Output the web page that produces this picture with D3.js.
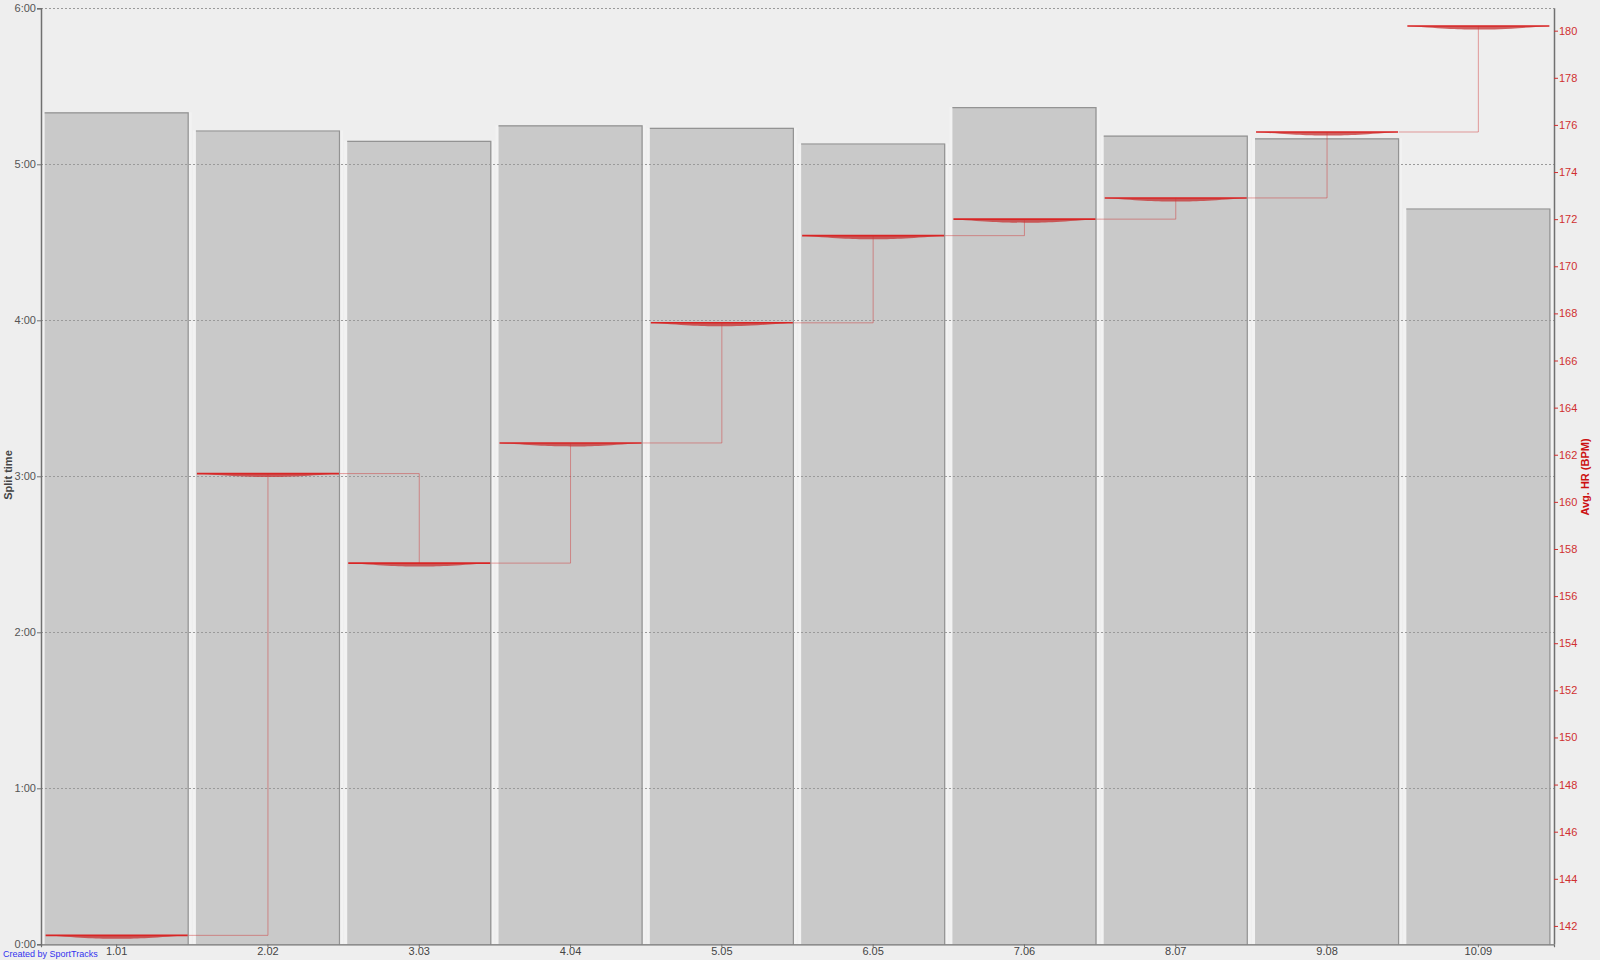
<!DOCTYPE html>
<html>
<head>
<meta charset="utf-8">
<script src="https://cdn.jsdelivr.net/npm/d3@7"></script>
<style>
  body { margin: 0; background: #eeeeee; }
  svg { display: block; font-family: "Liberation Sans", Arial, sans-serif; }
</style>
</head>
<body>
<div id="chart"></div>
<script>
// split labels (distance in km at end of split)
var splitLabels = ["1.01", "2.02", "3.03", "4.04", "5.05", "6.05", "7.06", "8.07", "9.08", "10.09"];
// split time in seconds
var splitSeconds = [320, 313, 309, 315, 314, 308, 322, 311, 310, 283];
// average heart rate per split
var avgHR = [141.6, 161.2, 157.4, 162.5, 167.6, 171.3, 172.0, 172.9, 175.7, 180.2];
// axis ticks
var timeTicks = [0, 60, 120, 180, 240, 300, 360];
var hrTicks = d3.range(142, 181, 2);

var width = 1600, height = 960;
var margin = {top: 8.3, right: 46, bottom: 15.7, left: 41};

var svg = d3.select("#chart").append("svg")
    .attr("width", width)
    .attr("height", height);

svg.append("rect").attr("width", width).attr("height", height).attr("fill", "#eeeeee");

var x = d3.scaleBand()
    .domain(splitLabels)
    .range([margin.left, width - margin.right])
    .paddingInner(0.048)
    .paddingOuter(0.024);

var y = d3.scaleLinear()
    .domain([0, 360])
    .range([height - margin.bottom, margin.top]);

var yHR = d3.scaleLinear()
    .domain([141.22, 180.95])
    .range([height - margin.bottom, margin.top]);

var data = splitLabels.map(function(d, i){
    return {label: d, time: splitSeconds[i], hr: avgHR[i]};
});

function fmtTime(s){
    var m = Math.floor(s / 60), sec = Math.round(s % 60);
    return m + ":" + (sec < 10 ? "0" : "") + sec;
}

//bars
var bars = svg.append("g").selectAll("g").data(data).enter().append("g");

bars.append("rect")
    .attr("x", function(d){ return x(d.label) - 3; })
    .attr("y", function(d){ return y(d.time); })
    .attr("width", x.bandwidth() + 6)
    .attr("height", function(d){ return y(0) - y(d.time); })
    .attr("fill", "#f2f2f2");

bars.append("rect")
    .attr("x", function(d){ return x(d.label); })
    .attr("y", function(d){ return y(d.time); })
    .attr("width", x.bandwidth())
    .attr("height", function(d){ return y(0) - y(d.time); })
    .attr("fill", "#c9c9c9");

bars.append("path")
    .attr("d", function(d){
        var x0 = x(d.label), x1 = x0 + x.bandwidth();
        return "M" + x0 + "," + (y(d.time) + 0.5) + "H" + (x1 - 0.5) + "V" + y(0);
    })
    .attr("fill", "none")
    .attr("stroke", "#939393")
    .attr("stroke-width", 1.2);

//gridlines over the bars
svg.append("g").selectAll("line").data(timeTicks.slice(1)).enter().append("line")
    .attr("x1", margin.left)
    .attr("x2", width - margin.right)
    .attr("y1", function(d){ return Math.round(y(d)) + 0.5; })
    .attr("y2", function(d){ return Math.round(y(d)) + 0.5; })
    .attr("stroke", "#9a9a9a")
    .attr("stroke-width", 1)
    .attr("stroke-dasharray", "2,2");

//heart rate step connectors
var steps = "";
data.forEach(function(d, i){
    if (i == 0) return;
    var prev = data[i-1];
    steps += "M" + (x(prev.label) + x.bandwidth()) + "," + yHR(prev.hr)
        + "H" + (x(d.label) + x.bandwidth() / 2)
        + "V" + yHR(d.hr);
});
svg.append("path")
    .attr("d", steps)
    .attr("fill", "none")
    .attr("stroke", "#d03030")
    .attr("stroke-opacity", 0.45)
    .attr("stroke-width", 1);

//heart rate segments (line with a thin lens below)
var segs = svg.append("g").selectAll("g").data(data).enter().append("g");

segs.append("path")
    .attr("d", function(d){
        var x0 = x(d.label) + 1, x1 = x(d.label) + x.bandwidth() - 1, yy = yHR(d.hr);
        var xm = (x0 + x1) / 2;
        return "M" + x0 + "," + yy + "C" + (x0 + 40) + "," + (yy + 3) + " " + (xm - 20) + "," + (yy + 3.5)
            + " " + xm + "," + (yy + 3.5) + "S" + (x1 - 40) + "," + (yy + 3) + " " + x1 + "," + yy + "Z";
    })
    .attr("fill", "#c83a3a")
    .attr("fill-opacity", 0.8);

segs.append("line")
    .attr("x1", function(d){ return x(d.label) + 1; })
    .attr("x2", function(d){ return x(d.label) + x.bandwidth() - 1; })
    .attr("y1", function(d){ return yHR(d.hr); })
    .attr("y2", function(d){ return yHR(d.hr); })
    .attr("stroke", "#d92525")
    .attr("stroke-width", 1.6);

//left axis
var yAxis = svg.append("g")
    .attr("transform", "translate(" + margin.left + ",0)")
    .call(d3.axisLeft(y).tickValues(timeTicks).tickFormat(fmtTime).tickSizeOuter(0).tickSize(4));
yAxis.select(".domain").attr("stroke", "#707070").attr("stroke-width", 1.5);
yAxis.selectAll(".tick line").attr("stroke", "#707070");
yAxis.selectAll("text").attr("fill", "#555").attr("font-size", 11).attr("dx", 2);

//right axis
var hrAxis = svg.append("g")
    .attr("transform", "translate(" + (width - margin.right) + ",0)")
    .call(d3.axisRight(yHR).tickValues(hrTicks).tickSizeOuter(0).tickSize(4));
hrAxis.select(".domain").attr("stroke", "#707070").attr("stroke-width", 1.5)
    .attr("d", "M0.5," + margin.top + "V" + (height - margin.bottom));
hrAxis.selectAll(".tick line").attr("stroke", "#d03030");
hrAxis.selectAll("text").attr("fill", "#d03030").attr("font-size", 11).attr("dx", -2);

//bottom axis
var xAxis = svg.append("g")
    .attr("transform", "translate(0," + (height - margin.bottom) + ")")
    .call(d3.axisBottom(x).tickSizeOuter(0).tickSize(3));
xAxis.select(".domain").attr("stroke", "#707070").attr("stroke-width", 1.2);
xAxis.selectAll(".tick line").attr("stroke", "#707070");
xAxis.selectAll("text").attr("fill", "#444").attr("font-size", 11).attr("dy", "0.45em");

//titles
svg.append("text")
    .attr("transform", "translate(12,475) rotate(-90)")
    .attr("text-anchor", "middle")
    .attr("font-size", 11)
    .attr("font-weight", "bold")
    .attr("fill", "#444")
    .text("Split time");

svg.append("text")
    .attr("transform", "translate(1589,477) rotate(-90)")
    .attr("text-anchor", "middle")
    .attr("font-size", 11)
    .attr("font-weight", "bold")
    .attr("fill", "#cc1111")
    .text("Avg. HR (BPM)");

svg.append("text")
    .attr("x", 3)
    .attr("y", 957)
    .attr("font-size", 9)
    .attr("fill", "#3333ee")
    .text("Created by SportTracks");
</script>
</body>
</html>
